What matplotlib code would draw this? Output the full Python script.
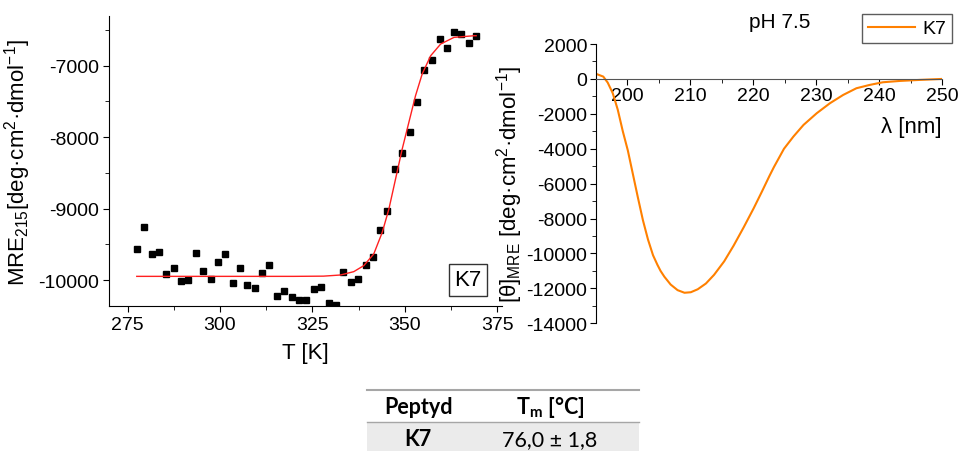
"""
Thermal unfolding of K7 (MRE at 215 nm vs T) and CD spectrum at pH 7.5
"""

import matplotlib
matplotlib.use('Agg')
import matplotlib.pyplot as plt
from matplotlib.patches import Rectangle
from matplotlib.lines import Line2D
from matplotlib.ticker import MultipleLocator

plt.rcParams['font.family'] = ['Liberation Sans', 'DejaVu Sans']
plt.rcParams['axes.unicode_minus'] = False
plt.rcParams['mathtext.fontset'] = 'custom'
plt.rcParams['mathtext.bf'] = 'Lato:bold'

# melting curve, measured points
T_data = [277.5, 279.5, 281.5, 283.5, 285.5, 287.5, 289.4, 291.4, 293.6, 295.5,
          297.5, 299.5, 301.4, 303.4, 305.5, 307.4, 309.4, 311.5, 313.4, 315.3,
          317.4, 319.4, 321.4, 323.2, 325.5, 327.4, 329.4, 331.4, 333.4, 335.4,
          337.4, 339.4, 341.4, 343.3, 345.3, 347.3, 349.3, 351.4, 353.3, 355.3,
          357.3, 359.4, 361.4, 363.4, 365.3, 367.3, 369.3]
mre_data = [-9561, -9253, -9636, -9613, -9916, -9832, -10009, -10000, -9617, -9874,
            -9986, -9743, -9636, -10042, -9832, -10070, -10117, -9907, -9785, -10219,
            -10159, -10243, -10280, -10280, -10126, -10103, -10322, -10350, -9893, -10033,
            -9986, -9785, -9678, -9300, -9029, -8441, -8222, -7933, -7501, -7056,
            -6920, -6626, -6757, -6528, -6552, -6687, -6589]

# fitted curve
T_fit = [277.5, 300.0, 320.0, 328.0, 332.6, 336.2, 338.9, 341.6, 343.9, 345.7,
         347.5, 349.3, 351.1, 352.9, 354.7, 357.0, 359.7, 363.3, 368.7, 369.3]
mre_fit = [-9949, -9949, -9949, -9946, -9930, -9883, -9799, -9636, -9333, -9006,
           -8586, -8166, -7793, -7420, -7116, -6860, -6696, -6603, -6580, -6580]

# CD spectrum
wl = [195.1, 196.2, 196.9, 197.7, 198.5, 199.3, 200.1, 200.9, 201.7, 202.5,
      203.3, 204.1, 204.8, 205.3, 205.9, 206.9, 208.0, 209.1, 210.1, 211.2,
      212.5, 213.8, 215.4, 216.9, 218.5, 220.1, 221.4, 222.6, 223.3, 224.9,
      226.4, 228.0, 230.1, 232.2, 234.3, 236.4, 238.5, 240.6, 243.3, 246.4, 250.0]
theta = [285, 133, -209, -816, -1765, -3000, -4100, -5450, -6800, -8100,
         -9200, -10100, -10650, -11000, -11330, -11780, -12100, -12250, -12220, -12050,
         -11720, -11220, -10450, -9550, -8500, -7400, -6450, -5550, -5050, -4000,
         -3300, -2635, -1965, -1392, -917, -534, -344, -191, -115, -57, 0]

table_head = ['Peptyd', r'$\mathbf{T_m}$ [°C]']
table_row = ['K7', '76,0 ± 1,8']

fig = plt.figure(figsize=(9.59, 4.52), dpi=100)

# --- left: melting curve
ax1 = fig.add_axes([0.1137, 0.3208, 0.4094, 0.6409])
ax1.plot(T_data, mre_data, 's', color='black', markersize=5)
ax1.plot(T_fit, mre_fit, '-', color='#ff2020', lw=1)
ax1.set_xlim(270, 376.2)
ax1.set_ylim(-10364, -6308)
ax1.xaxis.set_major_locator(MultipleLocator(25))
ax1.xaxis.set_minor_locator(MultipleLocator(12.5))
ax1.yaxis.set_major_locator(MultipleLocator(1000))
ax1.yaxis.set_minor_locator(MultipleLocator(500))
for s in ['top', 'right']:
    ax1.spines[s].set_visible(False)
ax1.tick_params(which='major', length=4, labelsize=14, pad=3)
ax1.tick_params(which='minor', length=3)
ax1.set_xlabel('T [K]', fontsize=16, labelpad=7)
ax1.set_ylabel(r'MRE$\mathregular{_{215}}$[deg·cm$\mathregular{^2}$·dmol$\mathregular{^{-1}}$]',
               fontsize=16, labelpad=4)
ax1.text(0.914, 0.09, 'K7', transform=ax1.transAxes, ha='center', va='center', fontsize=16,
         bbox=dict(boxstyle='square,pad=0.25', fc='white', ec='#333333', lw=1))

# --- right: CD spectrum
ax2 = fig.add_axes([0.6212, 0.2825, 0.3611, 0.6179])
ax2.plot(wl, theta, '-', color='#ff8000', lw=1.5, label='K7')
ax2.set_xlim(195, 250)
ax2.set_ylim(-14000, 2000)
ax2.spines['bottom'].set_position(('data', 0))
ax2.spines['bottom'].set_color('#555555')
for s in ['top', 'right']:
    ax2.spines[s].set_visible(False)
ax2.xaxis.set_major_locator(MultipleLocator(10))
ax2.xaxis.set_minor_locator(MultipleLocator(5))
ax2.yaxis.set_major_locator(MultipleLocator(2000))
ax2.yaxis.set_minor_locator(MultipleLocator(1000))
ax2.set_xticks([200, 210, 220, 230, 240, 250])
ax2.tick_params(which='major', length=4, labelsize=14, pad=2)
ax2.tick_params(which='minor', length=3)
ax2.set_ylabel(r'[θ]$\mathregular{_{MRE}}$ [deg·cm$\mathregular{^2}$·dmol$\mathregular{^{-1}}$]',
               fontsize=16, labelpad=1)
fig.text(942 / 959, 1 - 128 / 452, 'λ [nm]', ha='right', va='center', fontsize=16)
fig.text(780 / 959, 1 - 23 / 452, 'pH 7.5', ha='center', va='center', fontsize=15)
leg = ax2.legend(loc='upper right', bbox_to_anchor=(952 / 959, 1 - 15 / 452),
                 bbox_transform=fig.transFigure, borderaxespad=0, fancybox=False,
                 edgecolor='#333333', fontsize=14, handlelength=2.4, handletextpad=0.4,
                 borderpad=0.3)
leg.get_frame().set_linewidth(1)

# --- table
x0, x1 = 367 / 959, 639 / 959
fig.patches.append(Rectangle((x0, 0), x1 - x0, 1 - 423 / 452, transform=fig.transFigure,
                             facecolor='#ebebeb', edgecolor='none'))
fig.lines.append(Line2D([x0, x1], [1 - 391 / 452] * 2, transform=fig.transFigure,
                        color='#a6a6a6', lw=1.5))
fig.lines.append(Line2D([x0, x1], [1 - 423 / 452] * 2, transform=fig.transFigure,
                        color='#a6a6a6', lw=1))
tfont = dict(family=['Lato', 'DejaVu Sans'], fontsize=15.5, ha='center', va='center')
fig.text(418 / 959, 1 - 408 / 452, table_head[0], fontweight='bold', **tfont)
fig.text(550 / 959, 1 - 408 / 452, table_head[1], fontweight='bold', **tfont)
fig.text(418 / 959, 1 - 440 / 452, table_row[0], fontweight='bold', **tfont)
fig.text(550 / 959, 1 - 440 / 452, table_row[1], **tfont)

fig.savefig('out.png', dpi=100)
